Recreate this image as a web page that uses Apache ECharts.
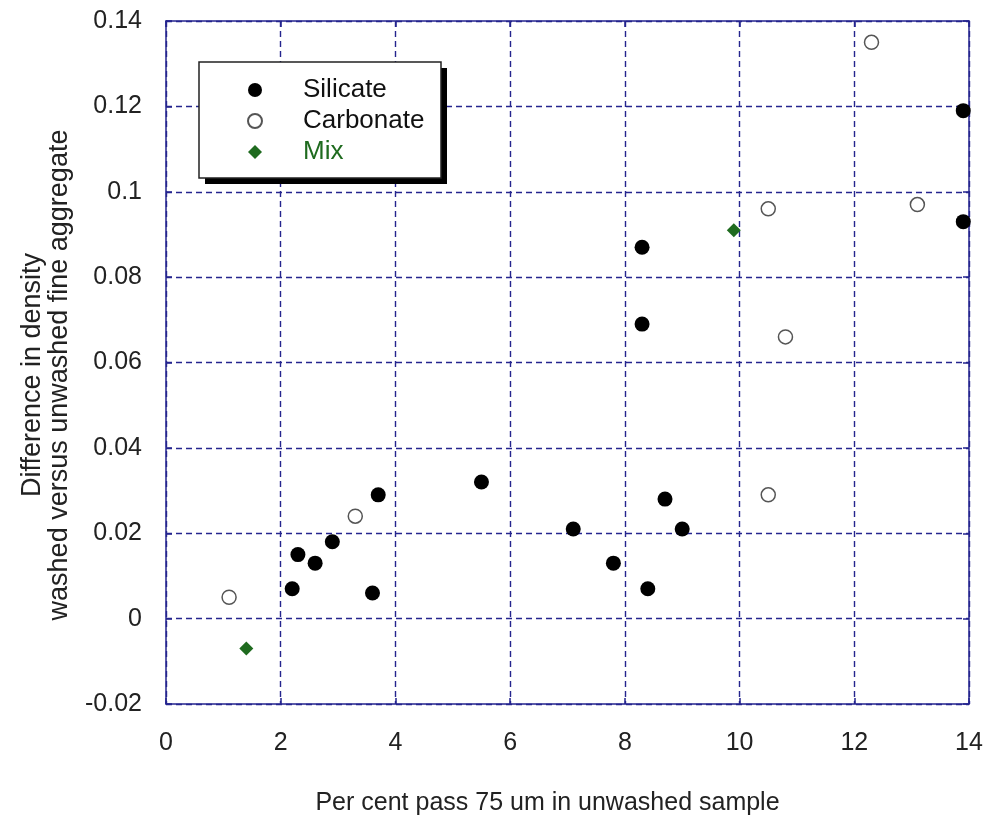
<!DOCTYPE html>
<html>
<head>
<meta charset="utf-8">
<script src="https://cdn.jsdelivr.net/npm/echarts@6/dist/echarts.min.js"></script>
<style>html,body{margin:0;padding:0;background:#fff}#c{width:986px;height:821px}</style>
</head>
<body>
<div id="c"></div>
<script>
// Data
var silicateX = [2.2, 2.3, 2.6, 2.9, 3.6, 3.7, 5.5, 7.1, 7.8, 8.4, 8.7, 9.0, 8.3, 8.3, 13.9, 13.9];
var silicateY = [0.007, 0.015, 0.013, 0.018, 0.006, 0.029, 0.032, 0.021, 0.013, 0.007, 0.028, 0.021, 0.087, 0.069, 0.119, 0.093];
var carbonateX = [1.1, 3.3, 10.5, 10.5, 10.8, 12.3, 13.1];
var carbonateY = [0.005, 0.024, 0.029, 0.096, 0.066, 0.135, 0.097];
var mixX = [1.4, 9.9];
var mixY = [-0.007, 0.091];
var seriesNames = ['Silicate', 'Carbonate', 'Mix'];
var xTitle = 'Per cent pass 75 um in unwashed sample';
var yTitle = 'Difference in density\nwashed versus unwashed fine aggregate';

function pairs(xs, ys) { return xs.map(function (x, i) { return [x, ys[i]]; }); }

var navy = '#25258e';
var font = '"Liberation Sans", Arial, sans-serif';
var chart = echarts.init(document.getElementById('c'));
function fmt(v) { return String(+v.toFixed(2)); }

var axisLineCommon = { show: true, onZero: false, lineStyle: { color: navy, width: 1.5 } };
var tickCommon = { show: true, inside: true, length: 6, lineStyle: { color: navy, width: 1.5 } };
var gridLine = { show: true, lineStyle: { color: navy, width: 1.4, type: [6, 4] } };

chart.setOption({
  animation: false,
  grid: { left: 166, right: 17, top: 21, bottom: 117, show: false },
  graphic: [
    { type: 'rect', z: 3, silent: true, shape: { x: 205, y: 68, width: 242, height: 116 },
      style: { fill: '#000' } },
    { type: 'rect', z: 3, silent: true, shape: { x: 199, y: 62, width: 242, height: 116 },
      style: { fill: '#fff', stroke: '#222', lineWidth: 1.5 } }
  ],
  legend: {
    orient: 'vertical', left: 199, top: 62, z: 5,
    padding: [15, 16, 15, 48],
    itemGap: 5, itemWidth: 14, itemHeight: 14,
    textStyle: { fontFamily: font, fontSize: 26, lineHeight: 26, color: '#111', padding: [0, 0, 0, 36] },
    data: [
      { name: seriesNames[0] },
      { name: seriesNames[1] },
      { name: seriesNames[2], textStyle: { color: '#1f6b1f' } }
    ]
  },
  xAxis: [{
    type: 'value', min: 0, max: 14, interval: 2, position: 'bottom',
    axisLine: axisLineCommon, axisTick: tickCommon,
    axisLabel: { fontFamily: font, fontSize: 25, color: '#222', margin: 27, formatter: fmt },
    splitLine: gridLine,
    name: xTitle, nameLocation: 'middle', nameGap: 87,
    nameTextStyle: { fontFamily: font, fontSize: 25, color: '#222', padding: [0, 40, 0, 0] }
  }, {
    type: 'value', min: 0, max: 14, interval: 2, position: 'top',
    axisLine: axisLineCommon, axisTick: tickCommon,
    axisLabel: { show: false }, splitLine: { show: false }
  }],
  yAxis: [{
    type: 'value', min: -0.02, max: 0.14, interval: 0.02, position: 'left',
    axisLine: axisLineCommon, axisTick: tickCommon,
    axisLabel: { fontFamily: font, fontSize: 25, color: '#222', margin: 24, formatter: fmt },
    splitLine: gridLine,
    name: yTitle, nameLocation: 'middle', nameGap: 93, nameRotate: 90,
    nameTextStyle: { fontFamily: font, fontSize: 27, color: '#222', lineHeight: 27, padding: [0, 25, 0, 0] }
  }, {
    type: 'value', min: -0.02, max: 0.14, interval: 0.02, position: 'right',
    axisLine: axisLineCommon, axisTick: tickCommon,
    axisLabel: { show: false }, splitLine: { show: false }
  }],
  series: [
    { name: seriesNames[0], type: 'scatter', data: pairs(silicateX, silicateY),
      symbol: 'circle', symbolSize: 15, itemStyle: { color: '#000', opacity: 1 } },
    { name: seriesNames[1], type: 'scatter', data: pairs(carbonateX, carbonateY),
      symbol: 'circle', symbolSize: 14, itemStyle: { color: '#fff', borderColor: '#555', borderWidth: 1.5, opacity: 1 } },
    { name: seriesNames[2], type: 'scatter', data: pairs(mixX, mixY),
      symbol: 'diamond', symbolSize: 14, itemStyle: { color: '#1f6b1f', opacity: 1 } }
  ]
});
</script>
</body>
</html>
